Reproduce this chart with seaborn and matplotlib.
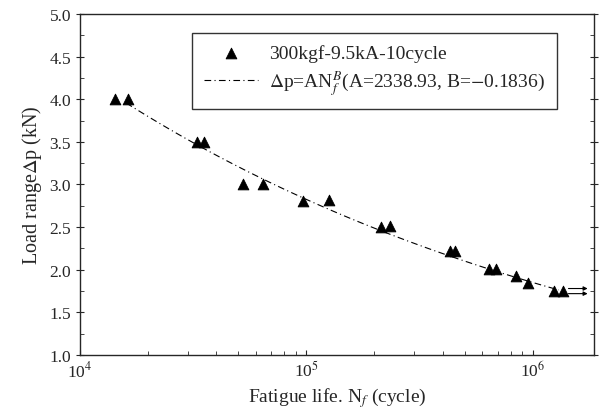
import numpy as np
import pandas as pd
import matplotlib
matplotlib.use("Agg")
import matplotlib.pyplot as plt
import seaborn as sns

# fatigue test data
cycles = [1.43e4, 1.63e4, 3.3e4, 3.54e4, 5.26e4, 6.46e4, 9.7e4, 1.26e5,
          2.14e5, 2.34e5, 4.3e5, 4.55e5, 6.4e5, 6.9e5, 8.4e5, 9.5e5,
          1.24e6, 1.36e6]
load_kn = [4.0, 4.0, 3.5, 3.5, 3.0, 3.0, 2.81, 2.82, 2.5, 2.51, 2.22, 2.22,
           2.01, 2.01, 1.93, 1.85, 1.75, 1.75]
runout_y = [1.78, 1.72]

A = 2338.93
B = -0.1836
fit_start = 1.6e4
fit_end = 1.3e6

df = pd.DataFrame({"N": cycles, "P": load_kn})
n_fit = np.logspace(np.log10(fit_start), np.log10(fit_end), 100)
fit = pd.DataFrame({"N": n_fit, "P": A * n_fit ** B / 100})

sns.set_style("ticks")
plt.rcParams["font.family"] = ["Liberation Serif", "DejaVu Serif"]
plt.rcParams["mathtext.fontset"] = "stix"

fig = plt.figure(figsize=(6.02, 4.14), dpi=100)
ax = fig.add_axes([0.133, 0.14, 0.854, 0.824])

sns.lineplot(data=fit, x="N", y="P", ax=ax, color="black", lw=0.8,
             linestyle=(0, (6, 3, 1, 3)),
             label=r"$\Delta$p=AN$_f^B$(A=2338.93, B=$-$0.1836)")
sns.scatterplot(data=df, x="N", y="P", ax=ax, marker="^", s=60,
                color="black", edgecolor="black",
                label="300kgf-9.5kA-10cycle")

for yv in runout_y:
    ax.annotate("", xy=(1.8e6, yv), xytext=(1.4e6, yv),
                arrowprops=dict(arrowstyle="-|>", color="black", lw=0.8,
                                mutation_scale=6))

ax.set_xscale("log")
ax.set_xlim(1e4, 1.87e6)
ax.set_ylim(1.0, 5.0)
ax.set_yticks(np.arange(1.0, 5.01, 0.5))
ax.set_yticks(np.arange(1.0, 5.01, 0.25), minor=True)
ax.set_yticklabels([f"{v:.1f}" for v in np.arange(1.0, 5.01, 0.5)])
ax.set_xticks([1e4, 1e5, 1e6])
ax.set_xticklabels([r"10$^4$", r"10$^5$", r"10$^6$"])
ax.tick_params(which="both", direction="in", right=True, labelsize=12.5)
ax.tick_params(axis="y", which="major", direction="inout", length=6)
ax.tick_params(which="minor", length=3)
for s in ax.spines.values():
    s.set_linewidth(1.0)

ax.set_xlabel(r"Fatigue life. N$_f$ (cycle)", fontsize=14)
ax.set_ylabel(r"Load range$\Delta$p (kN)", fontsize=14.5)

h, l = ax.get_legend_handles_labels()
leg = ax.legend(h[::-1], l[::-1], loc="upper left",
                bbox_to_anchor=(0.218, 0.945), frameon=True, fancybox=False,
                edgecolor="black", fontsize=14, handlelength=2.8,
                handletextpad=0.55, borderpad=0.6, labelspacing=0.3,
                borderaxespad=0)
leg.get_frame().set_linewidth(1.0)

fig.savefig("out.png", dpi=100)
